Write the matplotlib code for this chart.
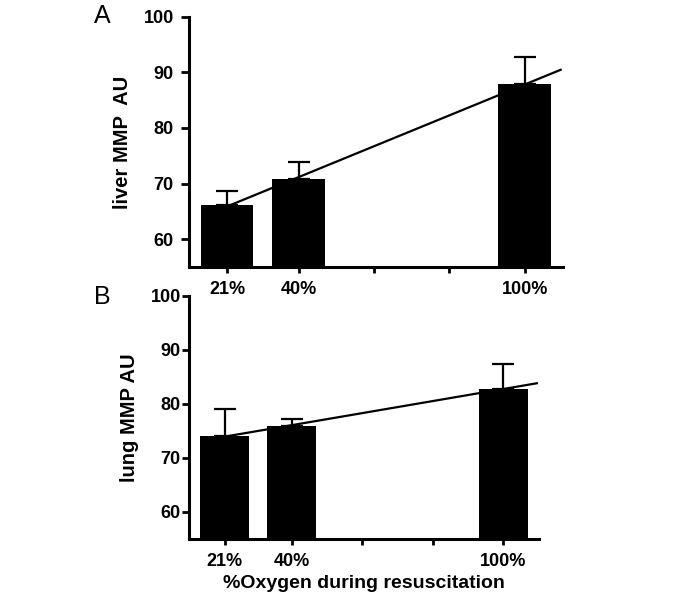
import numpy as np
import matplotlib
matplotlib.use('Agg')
import matplotlib.pyplot as plt

# 산소 농도(%)와 각 장기의 MMP 값
oxygen = [21, 40, 100]
oxygen_labels = ['21%', '40%', '100%']
liver_mean = [66.1, 70.9, 87.9]
liver_err = [2.5, 2.9, 4.8]
lung_mean = [74.1, 75.8, 82.8]
lung_err = [5.0, 1.3, 4.6]

plt.rcParams['font.family'] = ['Liberation Sans', 'DejaVu Sans']
plt.rcParams['font.weight'] = 'bold'

fig = plt.figure(figsize=(6.75, 6), dpi=100)
axA = fig.add_axes([0.28, 0.555, 0.554, 0.417])
axB = fig.add_axes([0.28, 0.102, 0.5185, 0.405])


def draw_panel(ax, mean, err, ylabel, tick_len, pad):
    ax.bar(oxygen, mean, width=14.0, color='black', zorder=2)
    ax.errorbar(oxygen, mean, yerr=[np.zeros(len(err)), err], fmt='none',
                ecolor='black', elinewidth=1.6, capsize=8, capthick=1.6, zorder=1)
    # 회귀선
    k, b = np.polyfit(oxygen, mean, 1)
    xs = np.array([21, 109.5])
    ax.plot(xs, k * xs + b, color='black', lw=1.6, zorder=3)

    ax.set_xlim(10.9, 110.1)
    ax.set_ylim(55, 100)
    ax.set_yticks([60, 70, 80, 90, 100])
    ax.set_xticks(oxygen + [60, 80])
    ax.set_xticklabels(oxygen_labels + ['', ''])
    ax.spines['top'].set_visible(False)
    ax.spines['right'].set_visible(False)
    ax.spines['left'].set_linewidth(2.2)
    ax.spines['bottom'].set_linewidth(2.2)
    ax.tick_params(axis='y', length=tick_len, width=2, labelsize=13, pad=pad)
    ax.tick_params(axis='x', length=4, width=2, labelsize=13, pad=6)
    for t in ax.get_xticklabels() + ax.get_yticklabels():
        t.set_fontweight('bold')
    ax.set_ylabel(ylabel, fontsize=14.5, fontweight='bold', labelpad=8)


draw_panel(axA, liver_mean, liver_err, 'liver MMP  AU', 6, 5)
draw_panel(axB, lung_mean, lung_err, 'lung MMP AU', 5, 1)
axB.set_xlabel('%Oxygen during resuscitation', fontsize=14, fontweight='bold', labelpad=4)

fig.text(0.152, 0.973, 'A', fontsize=18, fontweight='normal', va='center', ha='center')
fig.text(0.152, 0.505, 'B', fontsize=18, fontweight='normal', va='center', ha='center')

fig.savefig('out.png', dpi=100)
